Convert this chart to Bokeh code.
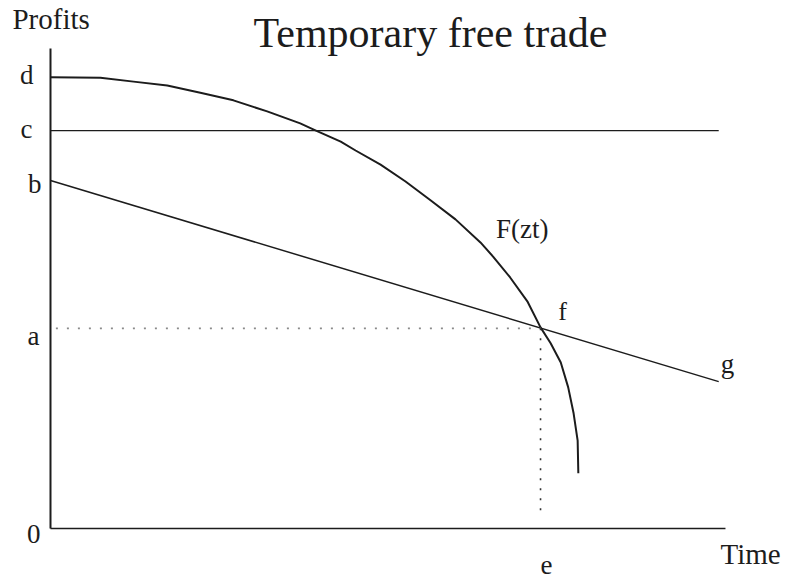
from bokeh.plotting import figure
from bokeh.models import Range1d, Label
from bokeh.embed import file_html
from bokeh.resources import INLINE

# ---- data (arbitrary units) ----
level_labels = ["d", "c", "b", "a", "0"]
level_values = [9.40, 8.29, 7.25, 4.17, 0.0]

curve_t = [0.0, 0.74, 1.23, 1.73, 2.22, 2.71, 3.21, 3.70, 3.90, 4.30, 4.52,
           4.89, 5.26, 5.63, 6.00, 6.37, 6.56, 6.81, 7.07, 7.26, 7.41, 7.56,
           7.67, 7.75, 7.81, 7.82]
curve_profit = [9.40, 9.39, 9.31, 9.23, 9.08, 8.92, 8.69, 8.44, 8.31, 8.06,
                7.875, 7.58, 7.23, 6.84, 6.44, 5.96, 5.66, 5.23, 4.72, 4.19,
                3.86, 3.46, 2.94, 2.40, 1.83, 1.15]

c_line_t = [0.0, 9.9]
bg_t = [0.0, 9.9]
bg_profit = [7.25, 3.06]
f_t = 7.26
f_profit = 4.17
e_dot_bottom = 0.23
axis_t_max = 10.0
axis_profit_max = 10.0

title_text = "Temporary free trade"
y_title = "Profits"
x_title = "Time"
curve_label = "F(zt)"

INK = "#1c1c1c"
FONT = "Liberation Serif"

p = figure(width=792, height=585, output_backend="svg", toolbar_location=None,
           x_axis_location=None, y_axis_location=None, min_border=0,
           x_range=Range1d(-0.7407, 10.993), y_range=Range1d(-1.1875, 11.0))
p.outline_line_color = None
p.grid.visible = False
p.background_fill_color = "white"

# axes
p.line([0, 0], [0, axis_profit_max], line_color=INK, line_width=2)
p.line([0, axis_t_max], [0, 0], line_color=INK, line_width=1.6)

# horizontal line at c
p.line(c_line_t, [level_values[1]] * 2, line_color=INK, line_width=1.4)
# line b-g
p.line(bg_t, bg_profit, line_color=INK, line_width=1.5)
# F(zt) curve
p.line(curve_t, curve_profit, line_color=INK, line_width=2, line_join="round")
# dotted guides
p.line([0.08, f_t], [f_profit, f_profit], line_color="#8a8a8a", line_width=1.6,
       line_dash="2 9")
p.line([f_t, f_t], [f_profit, e_dot_bottom], line_color="#333333", line_width=1.6,
       line_dash="2 8")


def lab(x, y, text, dx, base_dy, size, align="left"):
    # base_dy: baseline position in px below the anchor (negative = above)
    center_down = base_dy - 0.34 * size
    p.add_layout(Label(x=x, y=y, text=text, x_offset=dx, y_offset=-center_down,
                       text_align=align, text_baseline="middle",
                       text_font=FONT, text_font_size=f"{size}px", text_color=INK))


# level labels on the profit axis
offsets = {"d": (-17, 7), "c": (-18, 8), "b": (-9, 13), "a": (-11, 17), "0": (-10, 15)}
for name, val in zip(level_labels, level_values):
    dx, dy = offsets[name]
    lab(0, val, name, dx, dy, 27, "right")

lab(0, axis_profit_max, y_title, -38, -20, 29)
lab(axis_t_max, 0, x_title, -5, 35, 29)
lab(f_t, 0, "e", 6, 46, 27, "center")
lab(f_t, f_profit, "f", 22, -8, 26, "center")
lab(bg_t[1], bg_profit[1], "g", 2, -8, 27)
lab(6.99, 6.04, curve_label, 0, 0, 27, "center")
lab(5.63, axis_profit_max, title_text, 0, -1, 42, "center")

open("out.html", "w").write(file_html(p, INLINE))
